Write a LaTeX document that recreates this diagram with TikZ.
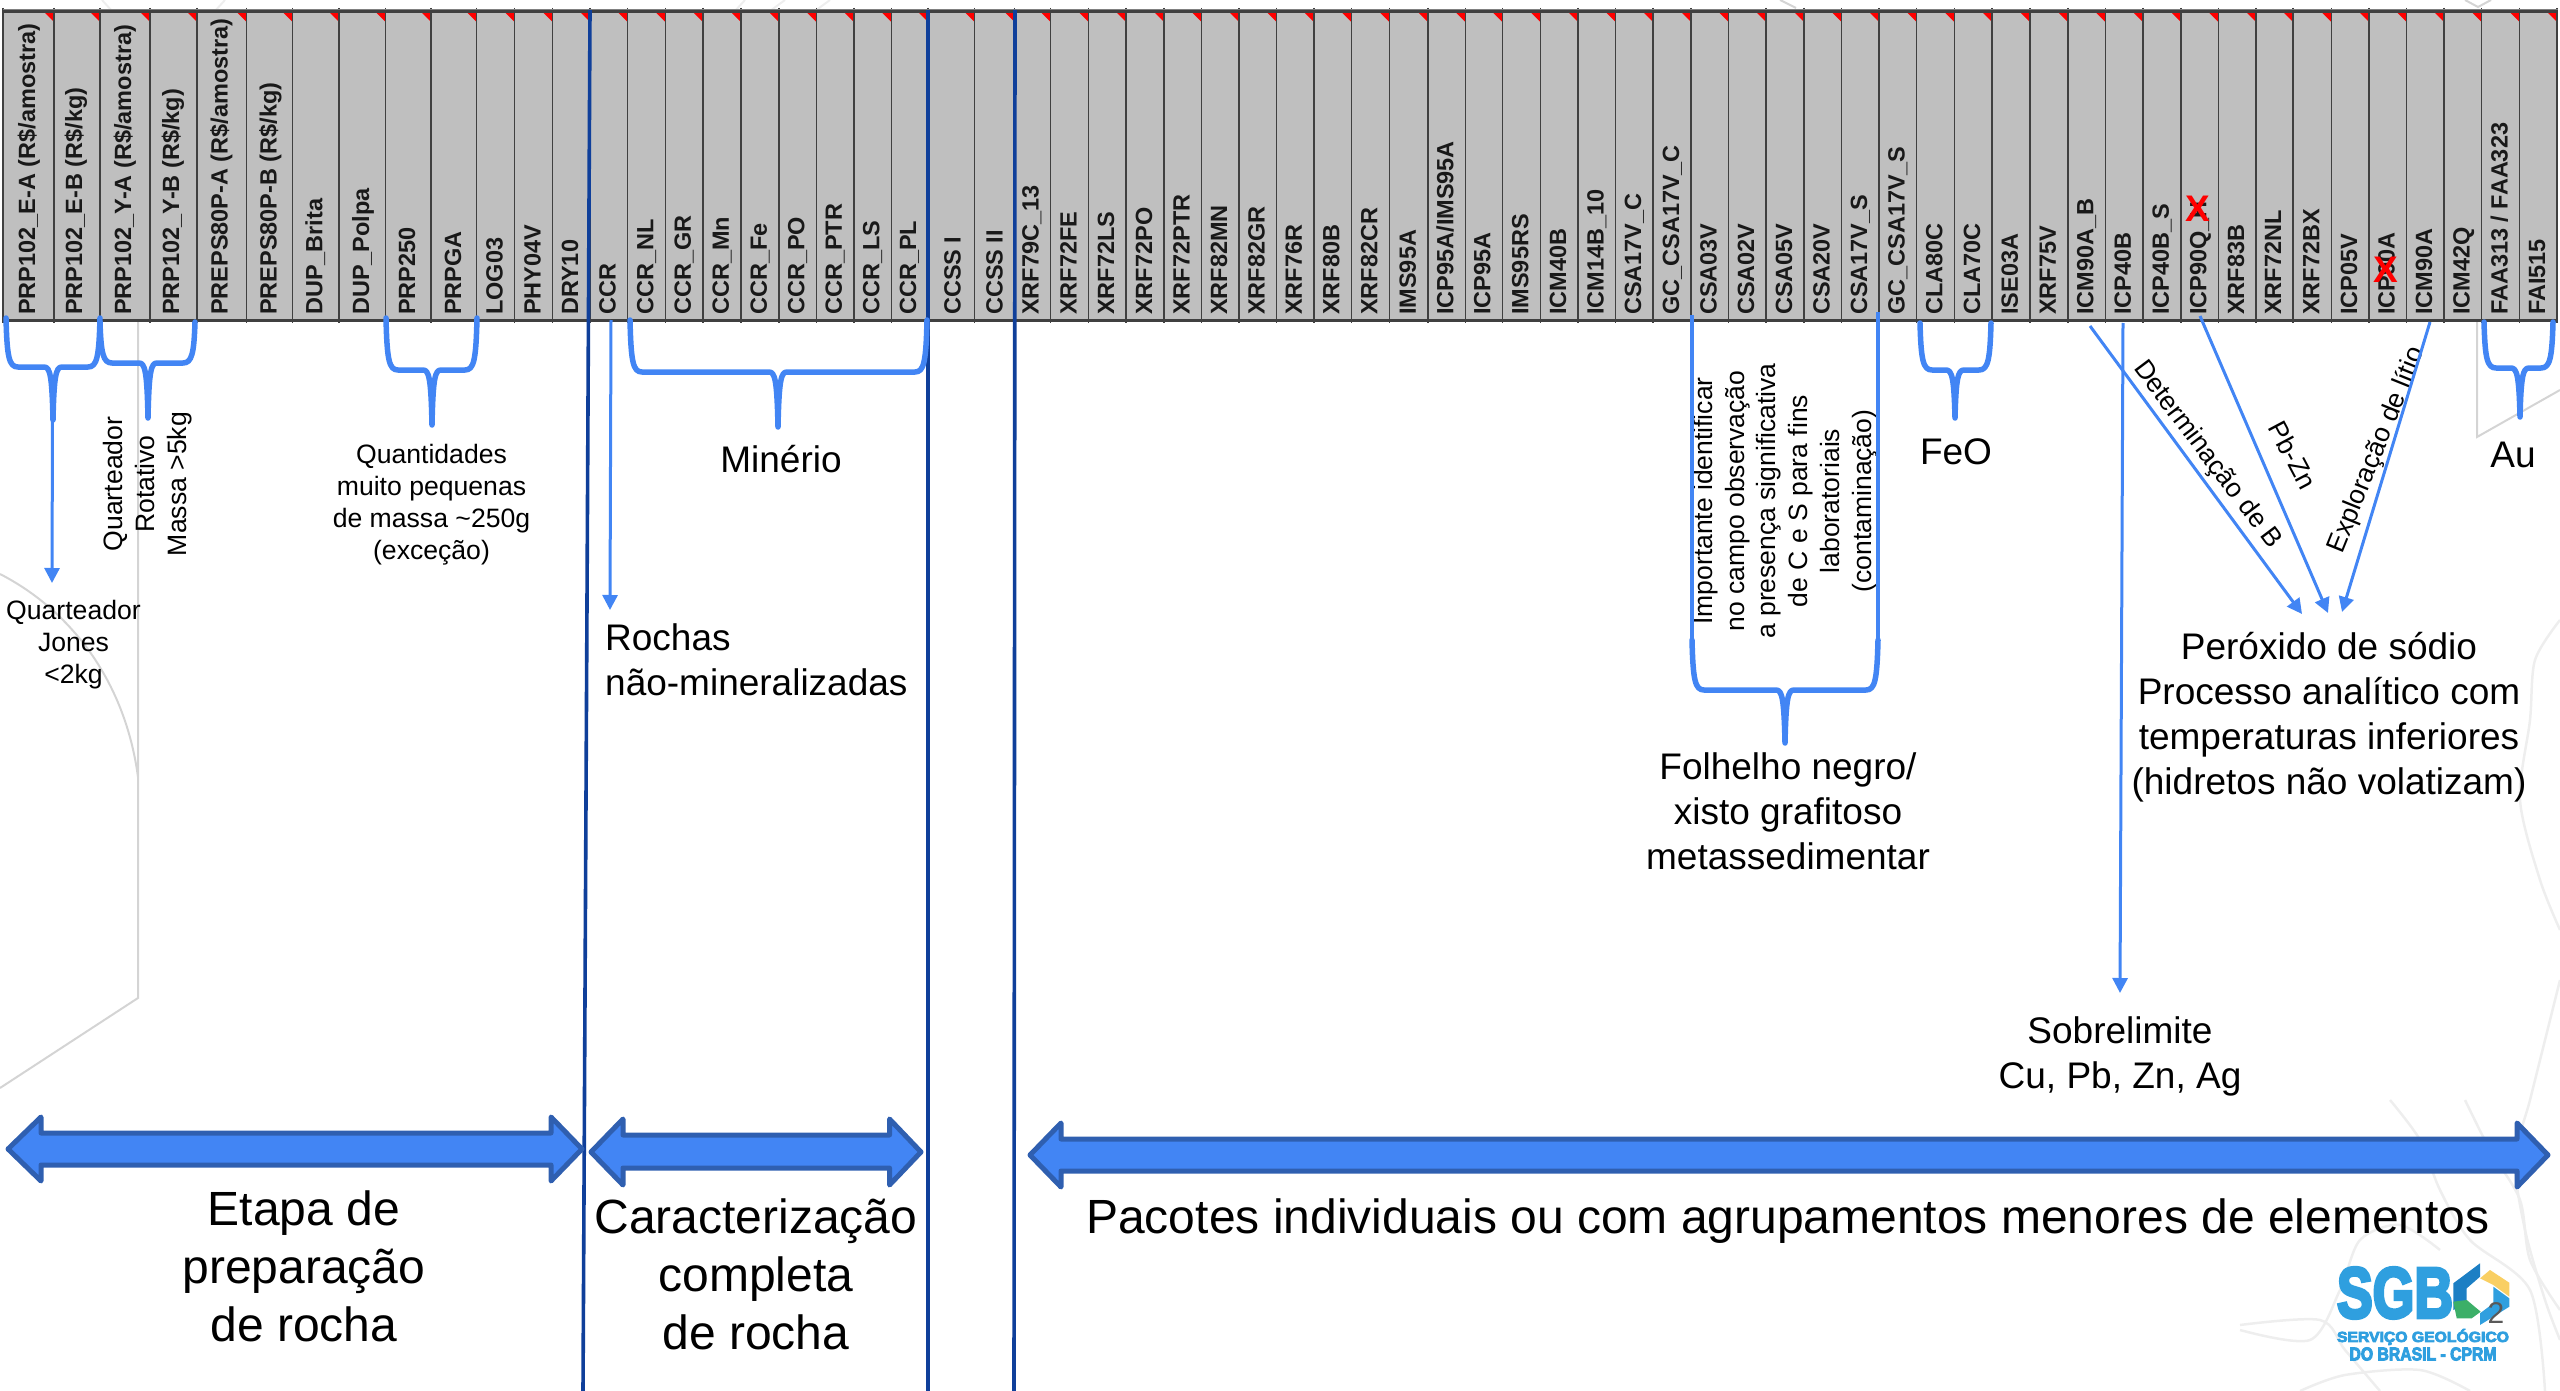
\documentclass[tikz,border=0pt]{standalone}
\usepackage{fontspec}
\usepackage{graphicx}
\setmainfont{Liberation Sans}
\newfontfamily\logofont[FakeBold=5]{Liberation Sans}
\usetikzlibrary{arrows.meta}
\definecolor{gridgray}{HTML}{BFBFBF}
\definecolor{griddark}{HTML}{404040}
\definecolor{bblue}{HTML}{4285F4}
\definecolor{dblue}{HTML}{0F3F9A}
\definecolor{aedge}{HTML}{2F5FB0}
\definecolor{wmark}{HTML}{D4D4D4}
\definecolor{wpale}{HTML}{EEEEEE}
\definecolor{logoblue}{HTML}{2F9FDF}
\definecolor{logodeep}{HTML}{1C7FC4}
\definecolor{logogreen}{HTML}{3CAF68}
\definecolor{logoyellow}{HTML}{F9CF63}
\tikzset{
  coltext/.style={font=\bfseries\fontsize{23.5}{26}\selectfont,rotate=90,anchor=base west,inner sep=0pt,text=black!90},
  t26/.style={font=\fontsize{26.6}{32}\selectfont,align=center,inner sep=0pt},
  t36/.style={font=\fontsize{37}{45}\selectfont,align=center,inner sep=0pt},
  t48/.style={font=\fontsize{48}{58}\selectfont,align=center,inner sep=0pt},
  thin arrow/.style={draw=bblue,line width=3,-{Triangle[length=15pt,width=15pt]}},
  brace line/.style={draw=bblue,line width=5.5,line cap=round,line join=round},
  side line/.style={draw=dblue,line width=3.6},
  big arrow/.style={fill=bblue,draw=aedge,line width=5,line join=round},
  wline/.style={draw=wmark,line width=2},
  wcont/.style={draw=wpale,line width=2.5},
  redx/.style={font=\bfseries\fontsize{37}{37}\selectfont,text=red,inner sep=0pt}
}
\newcommand{\bluebrace}[6]{%
  \draw[brace line] (#1,#4) .. controls (#1+1,#5-10) and (#1+3,#5) .. (#1+12,#5) -- (#3-9,#5)
    .. controls (#3-3,#5) and (#3-1,#5+8) .. (#3,#6)
    .. controls (#3+1,#5+8) and (#3+3,#5) .. (#3+9,#5) -- (#2-12,#5)
    .. controls (#2-3,#5) and (#2-1,#5-10) .. (#2,#4);}
\newcommand{\bigarrow}[8]{%
  \draw[big arrow] (#1,#3) -- (#2,#4) -- (#2,#5) -- (#7,#5) -- (#7,#4) -- (#8,#3)
    -- (#7,#3+#3-#4) -- (#7,#6) -- (#2,#6) -- (#2,#3+#3-#4) -- cycle;}
\begin{document}
\begin{tikzpicture}[x=1pt,y=-1pt]
\useasboundingbox (0,0) rectangle (2560,1391);
% watermark
\draw[wline] (138,322) -- (138,998) -- (0,1088);
\draw[wline] (0,574) .. controls (70,610) and (125,680) .. (138,777);
\draw[wline] (2477,322) -- (2477,437) -- (2560,390);
\draw[wline] (1780,0) -- (1796,8);
\draw[wline] (2465,0) -- (2478,7) -- (2491,0);
\draw[wpale,line width=2] (830,0) -- (815,11);
\draw[wpale,line width=2] (785,0) -- (770,11);
\draw[wpale,line width=2] (745,0) -- (735,11);
\draw[wpale,line width=2] (102,0) -- (112,11);
\draw[wpale,line width=2] (225,0) -- (215,11);
\draw[wcont] plot[smooth] coordinates {(2560,620) (2535,660) (2530,720) (2520,800) (2540,880) (2560,930)};
\draw[wcont] plot[smooth] coordinates {(2560,980) (2545,1040) (2530,1100) (2515,1160) (2525,1230) (2545,1300) (2560,1340)};
\draw[wcont] plot[smooth] coordinates {(2390,1100) (2420,1140) (2440,1190) (2470,1240) (2530,1290) (2545,1391)};
\draw[wcont] plot[smooth] coordinates {(2240,1330) (2310,1340) (2340,1290) (2360,1240) (2400,1225) (2440,1250)};
\draw[wcont] plot[smooth] coordinates {(2300,1391) (2345,1375) (2420,1370) (2470,1391)};
\draw[wcont] plot[smooth] coordinates {(2465,1100) (2490,1150) (2520,1200) (2530,1260) (2560,1310)};
\draw[wcont] plot[smooth] coordinates {(2240,1325) (2320,1320) (2345,1350) (2380,1391)};
% table
\fill[gridgray] (3,11) rectangle (2557,320);
\foreach \xl/\xr/\off/\txt [count=\n] in {
3/54/19/{PRP102\_E-A (R\$/amostra)},
54/100/18/{PRP102\_E-B (R\$/kg)},
100/150/19/{PRP102\_Y-A (R\$/amostra)},
150/197/18/{PRP102\_Y-B (R\$/kg)},
197/246.5/19/{PREPS80P-A (R\$/amostra)},
246.5/292.6/16/{PREPS80P-B (R\$/kg)},
292.6/339/16.6/{DUP\_Brita},
339/385.7/16.6/{DUP\_Polpa},
385.7/431/16/{PRP250},
431/476.7/15.7/{PRPGA},
476.7/514.7/12/{LOG03},
514.7/552.6/12/{PHY04V},
552.6/590/12/{DRY10},
590/627.7/12/{CCR},
627.7/665.3/12/{CCR\_NL},
665.3/702.9/12/{CCR\_GR},
702.9/740.8/12/{CCR\_Mn},
740.8/778.8/12/{CCR\_Fe},
778.8/816.3/12/{CCR\_PO},
816.3/853.9/12/{CCR\_PTR},
853.9/891.4/12/{CCR\_LS},
891.4/928/12/{CCR\_PL},
928/974.7/14/{CCSS I},
974.7/1014.7/12/{CCSS II},
1014.7/1050.6/12/{XRF79C\_13},
1050.6/1088.6/12/{XRF72FE},
1088.6/1126/12/{XRF72LS},
1126/1164/12/{XRF72PO},
1164/1201.6/12/{XRF72PTR},
1201.6/1239/12/{XRF82MN},
1239/1276.7/12/{XRF82GR},
1276.7/1313.9/12/{XRF76R},
1313.9/1351.4/12/{XRF80B},
1351.4/1389.4/12/{XRF82CR},
1389.4/1427.8/12/{IMS95A},
1427.8/1465.3/12/{ICP95A/IMS95A},
1465.3/1502.4/12/{ICP95A},
1502.4/1540.4/12/{IMS95RS},
1540.4/1578/12/{ICM40B},
1578/1615.5/12/{ICM14B\_10},
1615.5/1653/12/{CSA17V\_C},
1653/1691/12/{GC\_CSA17V\_C},
1691/1728.6/12/{CSA03V},
1728.6/1766/12/{CSA02V},
1766/1804/12/{CSA05V},
1804/1841.6/12/{CSA20V},
1841.6/1879/12/{CSA17V\_S},
1879/1916.7/12/{GC\_CSA17V\_S},
1916.7/1954.3/12/{CLA80C},
1954.3/1992/12/{CLA70C},
1992/2029.8/12/{ISE03A},
2029.8/2067.8/12/{XRF75V},
2067.8/2105.3/12/{ICM90A\_B},
2105.3/2142.9/12/{ICP40B},
2142.9/2180.8/12/{ICP40B\_S},
2180.8/2218.4/12/{ICP90Q\_H},
2218.4/2256/12/{XRF83B},
2256/2293/12/{XRF72NL},
2293/2331.4/12/{XRF72BX},
2331.4/2369/12/{ICP05V},
2369/2406.5/12/{ICP90A},
2406.5/2444/12/{ICM90A},
2444/2481.6/12/{ICM42Q},
2481.6/2519.6/12/{FAA313 / FAA323},
2519.6/2557/12/{FAI515}}{
  \fill[red] (\xr-9,13) -- (\xr,13) -- (\xr,22) -- cycle;
  \draw[griddark,line width=1.5] (\xr,8) -- (\xr,323);
  \node[coltext] (col\n) at (\xr-\off,315) {\txt};
}
\draw[griddark,line width=1.5] (3,8) -- (3,323);
\draw[griddark,line width=3] (3,12) -- (2558,12);
\draw[griddark,line width=3] (3,320) -- (2558,320);
\draw[gray,line width=1] (3,9.5) -- (2558,9.5);
\node[redx] (xa) at (2197.6,209) {X};
\node[redx] (xb) at (2386,270) {X};
% vertical dividers
\coordinate (da) at (590,10); \coordinate (db) at (583,1391);
\coordinate (dc) at (928,10); \coordinate (dd) at (928,1391);
\coordinate (de) at (1015,10); \coordinate (df) at (1014,1391);
\draw[side line] (da) -- (db);
\draw[side line] (dc) -- (dd);
\draw[side line] (de) -- (df);
% labels
\node[t26] (qj) at (73.5,645) {Quarteador\\Jones\\<2kg};
\node[t26,rotate=90] (qr) at (147.5,484) {Quarteador\\Rotativo\\Massa >5kg};
\node[t26] (qt) at (431.5,505) {Quantidades\\muito pequenas\\de massa \textasciitilde250g\\(exceção)};
\node[t36] (min) at (781,459) {Minério};
\node[t36,align=left,anchor=west] (roc) at (605,660) {Rochas\\não-mineralizadas};
\node[t26,font=\fontsize{26.5}{31.8}\selectfont,rotate=90] (imp) at (1785,501) {Importante identificar\\no campo observação\\a presença significativa\\de C e S para fins\\laboratoriais\\(contaminação)};
\node[t36] (feo) at (1956,452) {FeO};
\node[t36] (au) at (2513,455) {Au};
\node[t36] (fol) at (1788,811) {Folhelho negro/\\xisto grafitoso\\metassedimentar};
\node[t36] (per) at (2329,717) {Peróxido de sódio\\Processo analítico com\\temperaturas inferiores\\(hidretos não volatizam)};
\node[t36] (sob) at (2120,1056) {Sobrelimite\\Cu, Pb, Zn, Ag};
\node[t26,rotate=-53] (detb) at (2207,455) {Determinação de B};
\node[t26,rotate=-62] (pbzn) at (2293,455) {Pb-Zn};
\node[t26,rotate=68] (lit) at (2377,450) {Exploração de lítio};
\node[t48] (eta) at (304,1266) {Etapa de\\preparação\\de rocha};
\node[t48] (car) at (756,1274) {Caracterização\\completa\\de rocha};
\node[t48] (pac) at (1788,1221) {Pacotes individuais ou com agrupamentos menores de elementos};
% braces
\bluebrace{6}{100}{53}{318}{367}{420}
\bluebrace{100}{195}{148}{322}{363}{418}
\bluebrace{386}{477}{432}{318}{370}{425}
\bluebrace{630}{927}{778}{320}{372}{427}
\bluebrace{1692}{1878}{1785}{640}{690}{743}
\bluebrace{1920}{1991}{1955}{323}{370}{418}
\bluebrace{2484}{2553}{2520}{322}{368}{417}
\draw[draw=bblue,line width=4] (1692,315) -- (1692,642);
\draw[draw=bblue,line width=4] (1878,312) -- (1878,642);
% thin arrows
\coordinate (a1s) at (52.5,420); \coordinate (a1e) at (52,583);
\coordinate (a2s) at (611,320); \coordinate (a2e) at (610,610);
\coordinate (a3s) at (2090,326); \coordinate (a3e) at (2302,614);
\coordinate (a4s) at (2123,323); \coordinate (a4e) at (2120,993);
\coordinate (a5s) at (2200,316); \coordinate (a5e) at (2328,613);
\coordinate (a6s) at (2430,322); \coordinate (a6e) at (2342,612);
\draw[thin arrow] (a1s) -- (a1e);
\draw[thin arrow] (a2s) -- (a2e);
\draw[thin arrow] (a3s) -- (a3e);
\draw[thin arrow] (a4s) -- (a4e);
\draw[thin arrow] (a5s) -- (a5e);
\draw[thin arrow] (a6s) -- (a6e);
% big arrows  tip-left, base-left, y-centre, head-top, shaft-top, shaft-bottom, base-right, tip-right
\bigarrow{8}{41}{1149}{1117}{1133}{1165}{551}{582}
\bigarrow{591}{623}{1152}{1119}{1135}{1168}{889.5}{921}
\bigarrow{1030}{1061}{1155}{1123}{1139}{1171}{2517}{2548}
% logo
\fill[logodeep] (2453.3,1283.3) -- (2480,1263.3) -- (2480,1276.7) -- (2466.7,1288.3) -- (2466.7,1303.3) -- (2453.3,1310) -- cycle;
\fill[logogreen] (2453.3,1301.7) -- (2466.7,1300) -- (2480.7,1311.7) -- (2471.7,1318.3) -- (2456.7,1318.3) -- cycle;
\fill[logoyellow] (2480,1278.3) -- (2490,1270) -- (2509.3,1282.7) -- (2509.3,1296.7) -- (2493.3,1285) -- cycle;
\fill[logoblue] (2493.3,1286.7) -- (2509.3,1298.3) -- (2509.3,1306.7) -- (2480,1325) -- (2480,1313.3) -- (2493.3,1303.3) -- cycle;
\node[inner sep=0pt,text=logoblue] (lsgb) at (2395,1293) {\resizebox{116pt}{50pt}{\logofont\bfseries SGB}};
\node[inner sep=0pt,text=black!65,font=\fontsize{30}{30}\selectfont] (l2) at (2496,1313) {2};
\node[inner sep=0pt,text=logoblue] (ls1) at (2423,1337) {\resizebox{172pt}{13pt}{\logofont\bfseries SERVIÇO GEOLÓGICO}};
\node[inner sep=0pt,text=logoblue] (ls2) at (2423,1354) {\resizebox{147pt}{13pt}{\logofont\bfseries DO BRASIL - CPRM}};
\end{tikzpicture}
\end{document}
